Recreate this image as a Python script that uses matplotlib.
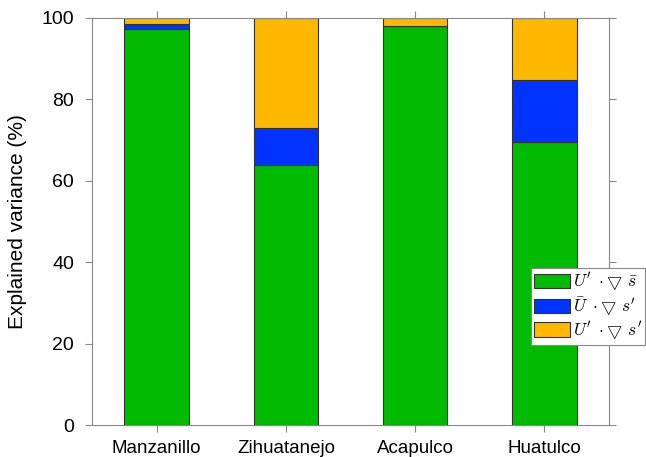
import numpy as np
import matplotlib
matplotlib.use('Agg')
from matplotlib import pyplot as plt

plt.rcParams['font.family'] = ['Liberation Sans', 'DejaVu Sans']
plt.rcParams['mathtext.fontset'] = 'cm'

# data (percent of explained variance)
sites = ['Manzanillo', 'Zihuatanejo', 'Acapulco', 'Huatulco']
mean_adv = [97.3, 64.0, 98.0, 69.6]    # U' . grad s_bar
pert_adv = [1.2, 9.0, 0.0, 15.2]       # U_bar . grad s'
nonlin = [1.5, 27.0, 2.0, 15.2]        # U' . grad s'

labels = [r"$U'\;\cdot\!\bigtriangledown\,\bar{s}$",
          r"$\bar{U}\;\cdot\!\bigtriangledown\,s'$",
          r"$U'\;\cdot\!\bigtriangledown\,s'$"]
colors = ['#00bb00', '#0033ff', '#ffb800']

fig = plt.figure(figsize=(6.46, 4.57), dpi=100)
ax = fig.add_axes([92/646, 1-425/457, (609-92)/646, (425-18)/457])

x = np.arange(len(sites))
b1 = np.array(mean_adv)
b2 = b1 + np.array(pert_adv)
ax.bar(x, mean_adv, 0.5, color=colors[0], edgecolor='#333333', linewidth=0.8, label=labels[0])
ax.bar(x, pert_adv, 0.5, bottom=b1, color=colors[1], edgecolor='#333333', linewidth=0.8, label=labels[1])
ax.bar(x, nonlin, 0.5, bottom=b2, color=colors[2], edgecolor='#333333', linewidth=0.8, label=labels[2])

ax.set_xlim(-0.5, 3.5)
ax.set_ylim(0, 100)
ax.set_xticks(x)
ax.set_xticklabels(sites, fontsize=13.5)
ax.set_yticks([0, 20, 40, 60, 80, 100])
ax.tick_params(axis='y', labelsize=14, direction='out', length=5, color='#888888', right=True, pad=8)
ax.tick_params(axis='x', direction='out', length=5, color='#888888', top=True, pad=6)
for s in ax.spines.values():
    s.set_color('#888888')
ax.set_ylabel('Explained variance (%)', fontsize=15, labelpad=10)

leg = ax.legend(loc='upper left', bbox_to_anchor=(531/646, 1-268/457), bbox_transform=fig.transFigure,
                fontsize=12.5, frameon=True, fancybox=False, framealpha=1, borderpad=0.15, labelspacing=0.1,
                handlelength=2.1, handleheight=0.9, handletextpad=0.15, borderaxespad=0)
leg.get_frame().set_edgecolor('#888888')
leg.get_frame().set_linewidth(0.8)

fig.savefig('out.png', dpi=100)
